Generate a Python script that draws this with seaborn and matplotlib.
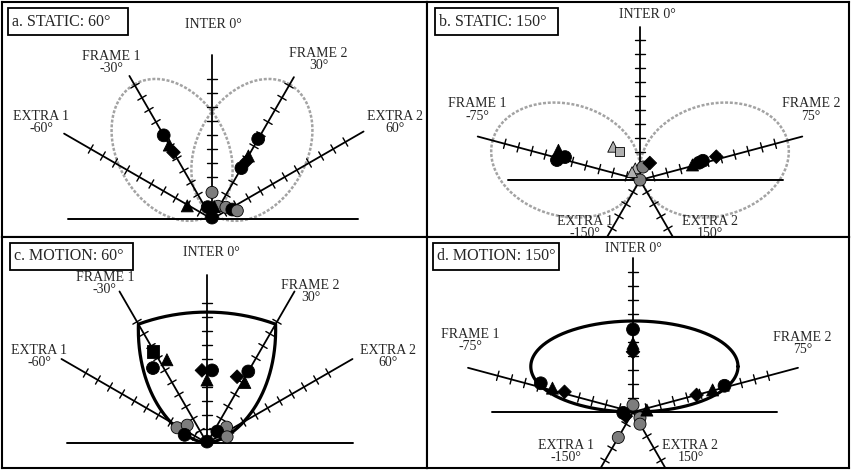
import numpy as np
import pandas as pd
import matplotlib
matplotlib.use("Agg")
import matplotlib.pyplot as plt
import seaborn as sns
from matplotlib.patches import Rectangle

sns.set_style("white")
plt.rcParams["font.family"] = ["Liberation Serif", "DejaVu Serif"]

# ---- data ----
titles = ["a. STATIC: 60°", "b. STATIC: 150°", "c. MOTION: 60°", "d. MOTION: 150°"]
axis_names = ["EXTRA 1", "FRAME 1", "INTER", "FRAME 2", "EXTRA 2"]
angles_60 = [-60, -30, 0, 30, 60]
angles_150 = [-150, -75, 0, 75, 150]

# radial axis lengths and tick counts (in tick units), order as the angles
len_a = [12.2, 11.8, 11.7, 11.7, 12.5]
len_b = [5.0, 12.0, 10.9, 12.0, 5.0]
len_c = [12.0, 12.5, 12.0, 12.5, 12.0]
len_d = [5.0, 12.2, 11.0, 12.2, 5.0]
nticks_a = [10, 11, 10, 11, 11]
nticks_b = [4, 10, 10, 10, 4]
nticks_c = [10, 10, 10, 10, 10]
nticks_d = [4, 10, 10, 10, 4]

# data points: polar angle (deg), radius (tick units), marker kind
pts_a_ang = [-30, -30, -30, 30, 30, 31, 30, 0, -62, -20, 25, 50, 65, 72, 0, 10]
pts_a_r = [6.9, 6.1, 5.5, 6.6, 5.2, 4.8, 4.2, 1.9, 2.0, 0.9, 1.0, 1.3, 1.6, 1.9, 0.1, 0.9]
pts_a_kind = ["circle", "triangle", "diamond", "circle", "triangle", "diamond", "circle",
              "gcircle", "triangle", "circle", "gcircle", "gcircle", "circle", "gcircle",
              "circle", "triangle"]

pts_b_ang = [-70, -76.5, -73, -39, -36, -22, 13, 30, 0, -45, 74, 73.7, 73, 73]
pts_b_r = [6.2, 6.1, 5.6, 3.05, 2.5, 0.9, 0.95, 1.4, 0.0, 0.8, 3.9, 4.4, 4.7, 5.7]
pts_b_kind = ["triangle", "circle", "circle", "gtriangle", "gsquare", "gtriangle", "gcircle",
              "diamond", "gcircle", "gtriangle", "triangle", "circle", "circle", "diamond"]

pts_c_ang = [-30.7, -35.8, -25.7, -4, 4, 0, 30, 24.4, 32, -63, -48, -70, 51, 42, 73, 0]
pts_c_r = [7.6, 6.6, 6.6, 5.2, 5.2, 4.5, 5.9, 5.2, 5.1, 2.4, 1.9, 1.7, 1.8, 1.1, 1.5, 0.1]
pts_c_kind = ["square", "circle", "triangle", "diamond", "circle", "triangle", "circle",
              "diamond", "triangle", "gcircle", "gcircle", "circle", "gcircle", "circle",
              "gcircle", "circle"]

pts_d_ang = [0, 0, 0, -72.7, -73.5, -73.6, 74, 74.5, 75, 0, -95, 130, 82, -150, 150, -120]
pts_d_r = [5.9, 4.9, 4.3, 6.9, 6.0, 5.1, 6.8, 5.9, 4.7, 0.5, 0.7, 0.65, 1.0, 2.1, 1.0, 0.6]
pts_d_kind = ["circle", "triangle", "diamond", "circle", "triangle", "diamond", "circle",
              "triangle", "diamond", "gcircle", "circle", "gcircle", "triangle", "gcircle",
              "gcircle", "diamond"]

# model curves
lobe_a = dict(centre=5.7, a=5.4, b=3.9)      # two static lobes along the frame axes
lobe_b = dict(centre=5.5, a=5.4, b=4.0)
bowl_c = dict(r0=9.35, r30=9.8, power=1.7)   # motion 60 envelope
ellipse_d = dict(cx=0.1, cy=3.25, a=7.4, b=3.25)

kind_marker = {"circle": "o", "triangle": "^", "diamond": "D", "square": "s",
               "gcircle": "o", "gtriangle": "^", "gsquare": "s"}
kind_color = {"circle": "black", "triangle": "black", "diamond": "black", "square": "black",
              "gcircle": "#7d7d7d", "gtriangle": "#b0b0b0", "gsquare": "#b0b0b0"}
kind_size = {"circle": 85, "triangle": 75, "diamond": 48, "square": 75,
             "gcircle": 75, "gtriangle": 60, "gsquare": 38}

U = 14.0  # pixels per tick unit
W, H = 851, 470
fig = plt.figure(figsize=(W / 100, H / 100), dpi=100)


def make_ax(box, origin):
    x0, y0, x1, y1 = box
    ox, oy = origin
    ax = fig.add_axes([x0 / W, 1 - y1 / H, (x1 - x0) / W, (y1 - y0) / H])
    ax.set_xlim((x0 - ox) / U, (x1 - ox) / U)
    ax.set_ylim((oy - y1) / U, (oy - y0) / U)
    ax.set_xticks([])
    ax.set_yticks([])
    for sp in ax.spines.values():
        sp.set_color("black")
        sp.set_linewidth(1.5)
    ax._box = box
    return ax


def draw_axes(ax, angles, lengths, nticks, base):
    ax.plot(base, [0, 0], color="black", lw=1.4, zorder=2)
    for ang, ln, nt in zip(angles, lengths, nticks):
        t = np.radians(ang)
        ux, uy = np.sin(t), np.cos(t)
        vx, vy = np.cos(t), -np.sin(t)
        ax.plot([0, ln * ux], [0, ln * uy], color="black", lw=1.3, zorder=2)
        xs, ys = [], []
        for k in range(1, nt + 1):
            xs += [k * ux - 0.34 * vx, k * ux + 0.34 * vx, np.nan]
            ys += [k * uy - 0.34 * vy, k * uy + 0.34 * vy, np.nan]
        ax.plot(xs, ys, color="black", lw=1.0, zorder=2)


def draw_labels(ax, angles, label_xy, title, title_box):
    for name, ang, (lx, ly) in zip(axis_names, angles, label_xy):
        if name == "INTER":
            txt = "INTER 0°"
        else:
            txt = f"{name}\n{ang}°"
        ax.text(lx, ly, txt, ha="center", va="center", multialignment="center",
                fontsize=10, linespacing=0.92, clip_on=True, zorder=6)
    # title box given in pixels: left, width (relative to the panel's top-left)
    x0, y0, x1, y1 = ax._box
    bw, bh = x1 - x0, y1 - y0
    bl, bwid = title_box
    ax.add_patch(Rectangle((bl / bw, 1 - 33 / bh), bwid / bw, 27 / bh, transform=ax.transAxes,
                           fc="white", ec="black", lw=1.3, zorder=7))
    ax.text((bl + 4) / bw, 1 - 19.5 / bh, title, transform=ax.transAxes, ha="left", va="center",
            fontsize=11.5, zorder=8)


def draw_points(ax, ang, r, kind):
    t = np.radians(ang)
    df = pd.DataFrame({"x": np.array(r) * np.sin(t), "y": np.array(r) * np.cos(t), "kind": kind})
    sns.scatterplot(data=df, x="x", y="y", hue="kind", style="kind", size="kind",
                    palette=kind_color, markers=kind_marker, sizes=kind_size,
                    edgecolor="black", linewidth=0.6, legend=False, ax=ax, zorder=5)
    ax.set_xlabel("")
    ax.set_ylabel("")


def lobes(ax, angles, p):
    s = np.linspace(0, 2 * np.pi, 300)
    for ang in angles:
        t = np.radians(ang)
        u = np.array([np.sin(t), np.cos(t)])
        v = np.array([np.cos(t), -np.sin(t)])
        a1 = p["centre"] + p["a"] * np.cos(s)
        b1 = p["b"] * np.sin(s)
        ax.plot(a1 * u[0] + b1 * v[0], a1 * u[1] + b1 * v[1], color="#a3a3a3",
                lw=1.8, ls=(0, (1.2, 0.7)), zorder=1)


# ---- panel a ----
ax = make_ax((2, 2, 427, 237), (212, 219))
lobes(ax, [-30, 30], lobe_a)
draw_axes(ax, angles_60, len_a, nticks_a, [-10.3, 10.4])
draw_points(ax, pts_a_ang, pts_a_r, pts_a_kind)
draw_labels(ax, angles_60, [(-12.2, 6.9), (-7.2, 11.2), (0.07, 13.86), (7.6, 11.4), (13.1, 6.9)],
            titles[0], (6, 120))

# ---- panel b ----
ax = make_ax((427, 2, 849, 237), (640, 180))
lobes(ax, [-75, 75], lobe_b)
draw_axes(ax, angles_150, len_b, nticks_b, [-9.4, 10.2])
draw_points(ax, pts_b_ang, pts_b_r, pts_b_kind)
draw_labels(ax, angles_150, [(-3.9, -3.4), (-11.6, 5.0), (0.5, 11.8), (12.2, 5.0), (5.0, -3.4)],
            titles[1], (8, 123))

# ---- panel c ----
ax = make_ax((2, 237, 427, 468), (207, 443))
phi = np.linspace(-90, 90, 361)
ap = np.abs(phi)
rr = np.where(ap <= 30, bowl_c["r0"] + (bowl_c["r30"] - bowl_c["r0"]) * (ap / 30) ** 2,
              bowl_c["r30"] * np.clip((90 - ap) / 60, 0, None) ** bowl_c["power"])
ax.plot(rr * np.sin(np.radians(phi)), rr * np.cos(np.radians(phi)), color="black", lw=2.3, zorder=3)
draw_axes(ax, angles_60, len_c, nticks_c, [-10.0, 10.4])
draw_points(ax, pts_c_ang, pts_c_r, pts_c_kind)
draw_labels(ax, angles_60, [(-12.0, 6.2), (-7.3, 11.4), (0.3, 13.6), (7.4, 10.8), (12.9, 6.2)],
            titles[2], (8, 123))

# ---- panel d ----
ax = make_ax((427, 237, 849, 468), (633, 412))
s = np.linspace(0, 2 * np.pi, 300)
ax.plot(ellipse_d["cx"] + ellipse_d["a"] * np.cos(s), ellipse_d["cy"] + ellipse_d["b"] * np.sin(s),
        color="black", lw=2.3, zorder=3)
draw_axes(ax, angles_150, len_d, nticks_d, [-10.1, 10.3])
draw_points(ax, pts_d_ang, pts_d_r, pts_d_kind)
draw_labels(ax, angles_150, [(-4.8, -2.8), (-11.6, 5.1), (0.0, 11.7), (12.1, 4.9), (4.1, -2.8)],
            titles[3], (6, 126))

fig.savefig("out.png", dpi=100)
